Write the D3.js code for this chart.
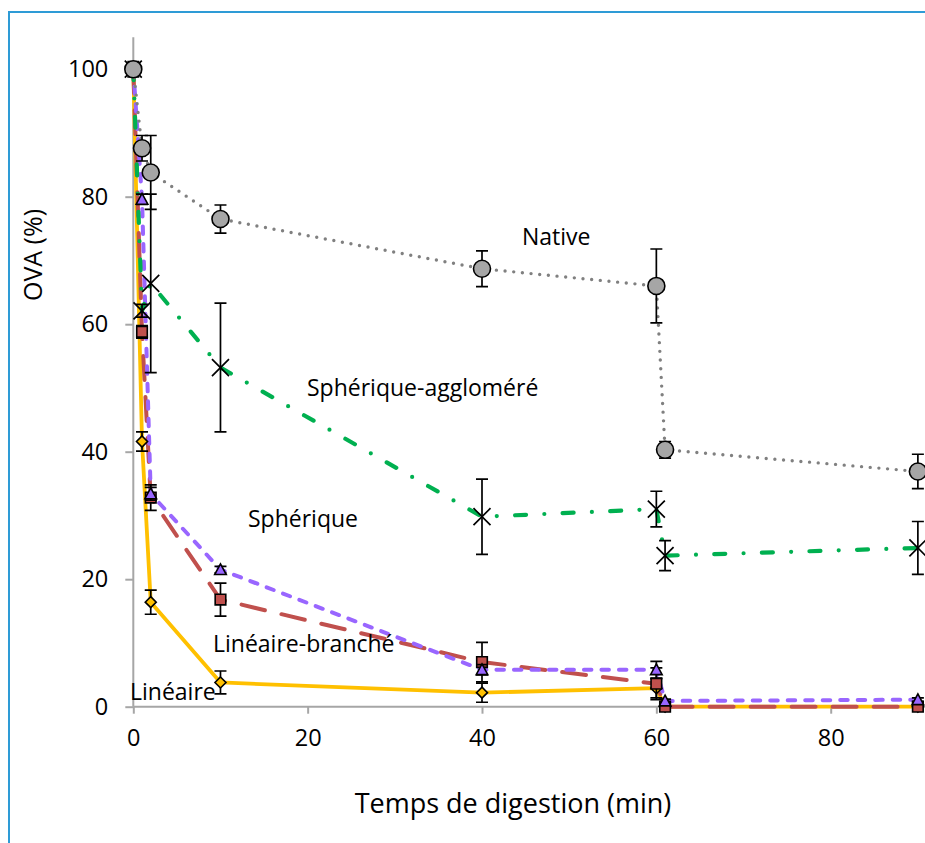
<!DOCTYPE html>
<html>
<head>
<meta charset="utf-8">
<script src="https://cdn.jsdelivr.net/npm/d3@7/dist/d3.min.js"></script>
<style>
html, body { margin: 0; padding: 0; background: #fff; }
svg { display: block; }
text { font-family: "Open Sans", "Noto Sans", sans-serif; fill: #000; }
</style>
</head>
<body>
<svg id="chart" width="925" height="843"></svg>
<script>
// ---- Data ----
const times = [0, 1, 2, 10, 40, 60, 61, 90];
const xTicks = [0, 20, 40, 60, 80];
const yTicks = [0, 20, 40, 60, 80, 100];

const lineaire        = [100, 41.6, 16.4, 3.8, 2.2, 2.9, 0, 0];
const lineaireErr     = [0, 1.5, 1.9, 1.8, 1.5, 1.5, 0, 0];
const lineaireBranche = [100, 58.8, 32.8, 16.8, 7.0, 3.6, 0, 0];
const lineaireBrancheErr = [0, 1.0, 2.0, 2.6, 3.1, 2.5, 0, 0];
const spherique       = [100, 79.6, 33.4, 21.5, 5.8, 5.8, 0.9, 1.1];
const spheriqueErr    = [0, 0.8, 1.0, 0.5, 0.8, 1.3, 0.3, 0.3];
const spheriqueAgg    = [100, 62.1, 66.4, 53.2, 29.8, 31.0, 23.7, 24.9];
const spheriqueAggErr = [0, 1.0, 14.0, 10.1, 5.9, 2.8, 2.35, 4.15];
const native          = [100, 87.6, 83.8, 76.5, 68.7, 66.0, 40.3, 36.9];
const nativeErr       = [1.2, 2.0, 5.8, 2.2, 2.8, 5.8, 1.3, 2.7];

const seriesNames = ["Linéaire", "Linéaire-branché", "Sphérique", "Sphérique-aggloméré", "Native"];
const seriesValues = [lineaire, lineaireBranche, spherique, spheriqueAgg, native];
const seriesErrors = [lineaireErr, lineaireBrancheErr, spheriqueErr, spheriqueAggErr, nativeErr];

const labelTexts = ["Native", "Sphérique-aggloméré", "Sphérique", "Linéaire-branché", "Linéaire"];

// ---- Styles ----
const styles = {
  "Linéaire":            { color: "#ffc000", width: 3.8, dash: null, cap: "round", marker: "diamond", fill: "#ffc000" },
  "Linéaire-branché":    { color: "#c0504d", width: 4, dash: "24 17", cap: "round", marker: "square", fill: "#c0504d" },
  "Sphérique":           { color: "#9966ff", width: 4, dash: "7.5 10", cap: "round", marker: "triangle", fill: "#9966ff" },
  "Sphérique-aggloméré": { color: "#00b050", width: 4.2, dash: "11 18.3 0 18.3", cap: "round", marker: "x", fill: "none" },
  "Native":              { color: "#808080", width: 3.4, dash: "0 8.7", cap: "round", marker: "circle", fill: "#a6a6a6" }
};

const svg = d3.select("#chart");

// Frame border
svg.append("rect").attr("x", 9).attr("y", 12).attr("width", 1000).attr("height", 1000)
  .attr("fill", "none").attr("stroke", "#2e9bd6").attr("stroke-width", 2);

const x = d3.scaleLinear().domain([0, 100]).range([133.3, 133.3 + 871.75]);
const y = d3.scaleLinear().domain([0, 105]).range([706.7, 706.7 - 105 * 6.375]);

// Axes
const axisColor = "#a6a6a6";
const gx = svg.append("g").attr("transform", `translate(0,${y(0)})`)
  .call(d3.axisBottom(x).tickValues(xTicks).tickSize(7).tickPadding(16).tickFormat(d3.format("d")));
const gy = svg.append("g").attr("transform", `translate(${x(0)},0)`)
  .call(d3.axisLeft(y).tickValues(yTicks).tickSize(8).tickPadding(17).tickFormat(d3.format("d")));
[gx, gy].forEach(g => {
  g.select(".domain").attr("stroke", axisColor).attr("stroke-width", 2);
  g.selectAll(".tick line").attr("stroke", axisColor).attr("stroke-width", 2);
  g.selectAll(".tick text").attr("font-size", 23.5).attr("fill", "#000")
    .style("font-family", '"Open Sans", sans-serif');
});
gy.select(".domain").attr("d", `M0,${y(105)}V${y(0)}`);
gx.select(".domain").attr("d", `M${x(0)},0H${x(100)}`);

// Axis titles
svg.append("text").attr("x", 513).attr("y", 813).attr("text-anchor", "middle")
  .attr("font-size", 27).text("Temps de digestion (min)");
svg.append("text").attr("transform", "translate(42,255) rotate(-90)").attr("text-anchor", "middle")
  .attr("font-size", 25).text("OVA (%)");

// Lines
const lineGen = d3.line().x(d => x(d.t)).y(d => y(d.v));
seriesNames.forEach((name, si) => {
  const st = styles[name];
  const pts = times.map((t, i) => ({ t, v: seriesValues[si][i], e: seriesErrors[si][i] }));
  svg.append("g").append("path").datum(pts).attr("d", lineGen)
    .attr("fill", "none").attr("stroke", st.color).attr("stroke-width", st.width)
    .attr("stroke-dasharray", st.dash).attr("stroke-linecap", st.cap).attr("stroke-linejoin", "round");
});

// Error bars and markers
function markerPath(type) {
  switch (type) {
    case "circle": { const r = 8.5; return `M${-r},0A${r},${r} 0 1,0 ${r},0A${r},${r} 0 1,0 ${-r},0Z`; }
    case "square": { const s = 5.3; return `M${-s},${-s}H${s}V${s}H${-s}Z`; }
    case "triangle": { const h = 5.8; return `M0,${-h}L${h},${h * 0.85}L${-h},${h * 0.85}Z`; }
    case "diamond": { const s = 5.5; return `M0,${-s}L${s},0L0,${s}L${-s},0Z`; }
    case "x": { const s = 8.5; return `M${-s},${-s}L${s},${s}M${-s},${s}L${s},${-s}`; }
  }
}
seriesNames.forEach((name, si) => {
  const st = styles[name];
  const pts = times.map((t, i) => ({ t, v: seriesValues[si][i], e: seriesErrors[si][i] }));
  const g = svg.append("g");
  g.selectAll(".eb").data(pts.filter(d => d.e > 0)).enter().append("path")
    .attr("d", d => {
      const cx = x(d.t), y1 = y(d.v + d.e), y2 = y(d.v - d.e), c = 6;
      return `M${cx},${y1}V${y2}M${cx - c},${y1}H${cx + c}M${cx - c},${y2}H${cx + c}`;
    })
    .attr("stroke", "#000").attr("stroke-width", 1.7).attr("fill", "none");
  g.selectAll(".mk").data(pts).enter().append("path")
    .attr("transform", d => `translate(${x(d.t)},${y(d.v)})`)
    .attr("d", markerPath(st.marker))
    .attr("fill", st.fill).attr("stroke", "#000").attr("stroke-width", st.marker === "x" ? 1.7 : 1.6);
});

// Series labels
const labelPos = [[522, 245], [307, 396], [248, 527], [213, 652], [130, 700]];
labelTexts.forEach((t, i) => {
  svg.append("text").attr("x", labelPos[i][0]).attr("y", labelPos[i][1])
    .attr("font-size", 23).text(t);
});
</script>
</body>
</html>
